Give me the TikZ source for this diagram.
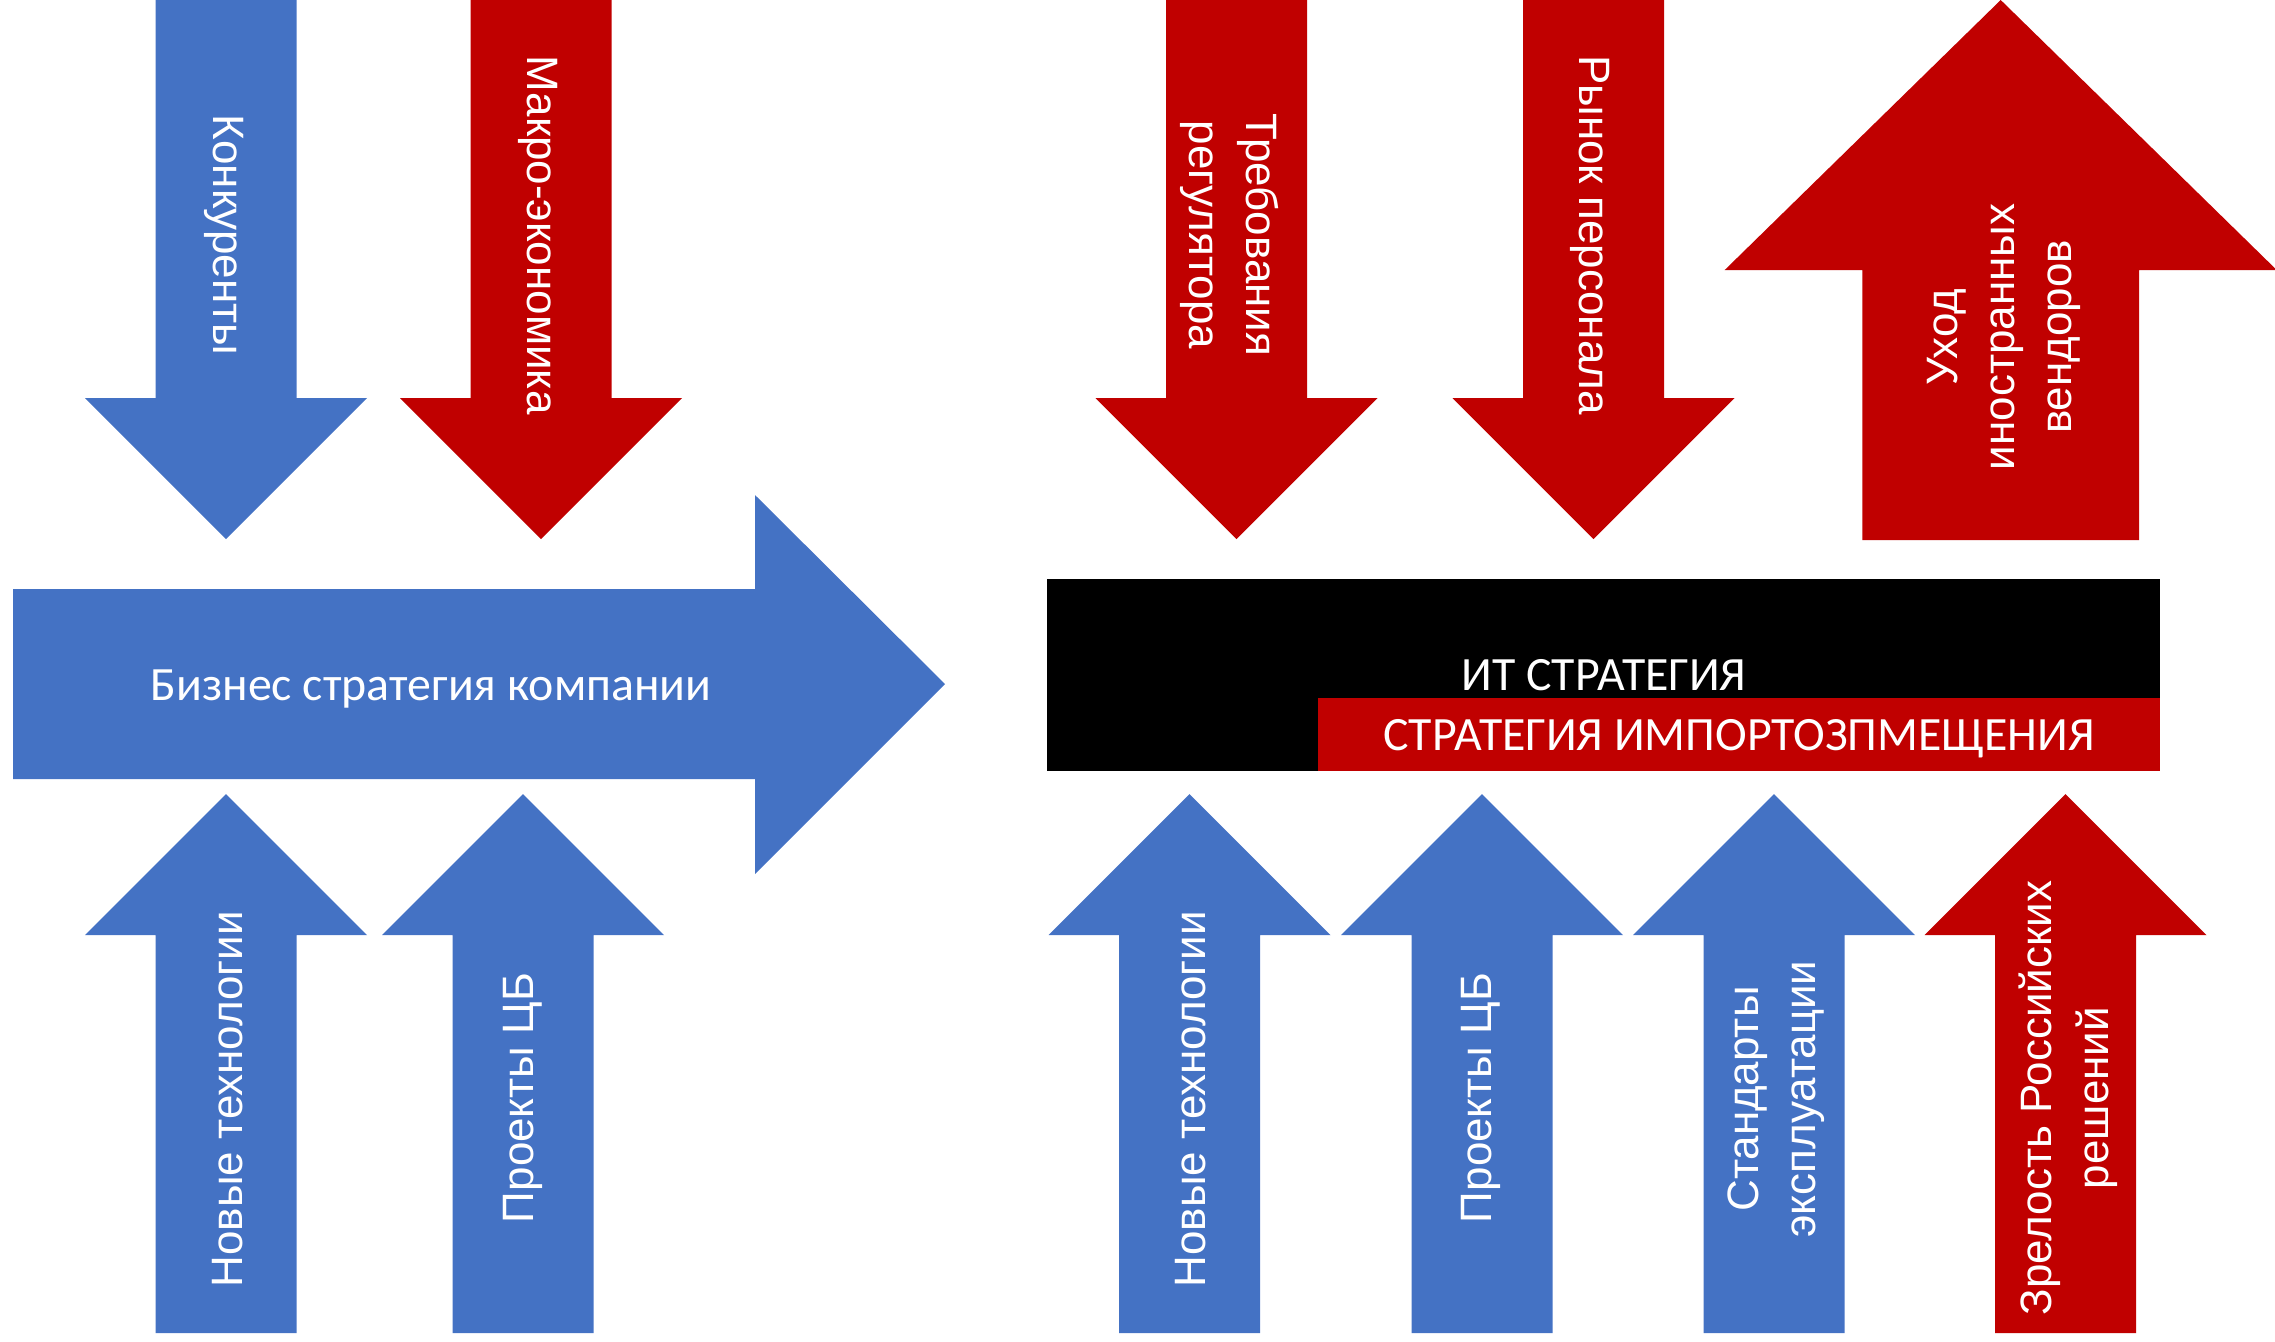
\documentclass[tikz,border=0pt]{standalone}
\usepackage{fontspec}
\setmainfont{Liberation Sans}
\newfontfamily\calibrifont{Carlito}
\definecolor{arrowblue}{HTML}{4472C4}
\definecolor{arrowred}{HTML}{C00000}

% vertical block arrow: colour, centre x, shaft end y, head base y, tip y, shaft half width, head half width
\newcommand\vertarrow[7]{%
  \fill[#1] (#2-#6,#3) -- (#2+#6,#3) -- (#2+#6,#4) -- (#2+#7,#4) -- (#2,#5)
    -- (#2-#7,#4) -- (#2-#6,#4) -- cycle;}

\begin{document}
\begin{tikzpicture}[x=0.01cm,y=-0.01cm,
  vlabel/.style={text=white, font=\fontsize{12.5}{16.2}\selectfont, align=center, inner sep=0pt},
  hlabel/.style={text=white, font=\calibrifont\fontsize{13.6}{16}\selectfont, inner sep=0pt, anchor=base}]
\useasboundingbox (0,0) rectangle (2275,1341);

% business strategy arrow
\fill[arrowblue] (13,589) -- (755,589) -- (755,495) -- (945,684) -- (755,874)
  -- (755,779) -- (13,779) -- cycle;
\node[hlabel] (biz) at (431,700.7) {Бизнес стратегия компании};

% downward influences, left group
\vertarrow{arrowblue}{226}{0}{398}{539}{70.5}{141}
\vertarrow{arrowred}{541}{0}{398}{539}{70.5}{141}
\node[vlabel, rotate=-90] (konk) at (224,235) {Конкуренты};
\node[vlabel, rotate=-90] (macro) at (538,235) {Макро-экономика};

% upward influences, left group
\vertarrow{arrowblue}{226}{1333}{935}{794}{70.5}{141}
\vertarrow{arrowblue}{523}{1333}{935}{794}{70.5}{141}
\node[vlabel, rotate=90] (tech1) at (228,1099) {Новые технологии};
\node[vlabel, rotate=90] (cb1) at (523,1098) {Проекты ЦБ};

% IT strategy block
\fill[black] (1046.7,579) rectangle (2160,770.7);
\fill[arrowred] (1318,697.7) rectangle (2160,770.7);
\node[hlabel] (it) at (1604,690.7) {ИТ СТРАТЕГИЯ};
\node[hlabel] (imp) at (1739,750.7) {СТРАТЕГИЯ ИМПОРТОЗПМЕЩЕНИЯ};

% downward influences, right group
\vertarrow{arrowred}{1236.5}{0}{398}{539}{70.5}{141}
\vertarrow{arrowred}{1593.5}{0}{398}{539}{70.5}{141}
\node[vlabel, rotate=-90] (reg) at (1230,235) {Требования\\регулятора};
\node[vlabel, rotate=-90] (staff) at (1590,235) {Рынок персонала};

% vendors leaving
\vertarrow{arrowred}{2000.7}{540}{270}{0}{138.3}{276}
\node[vlabel, rotate=90] (vend) at (2004,337) {Уход\\иностранных\\вендоров};

% upward influences, right group
\vertarrow{arrowblue}{1189.5}{1333}{935}{794}{70.5}{141}
\vertarrow{arrowblue}{1482}{1333}{935}{794}{70.5}{141}
\vertarrow{arrowblue}{1774}{1333}{935}{794}{70.5}{141}
\vertarrow{arrowred}{2065.5}{1333}{935}{794}{70.5}{141}
\node[vlabel, rotate=90] (tech2) at (1191,1099) {Новые технологии};
\node[vlabel, rotate=90] (cb2) at (1481,1098) {Проекты ЦБ};
\node[vlabel, rotate=90] (ops) at (1776,1099) {Стандарты\\эксплуатации};
\node[vlabel, rotate=90] (ripe) at (2068,1098) {Зрелость Российских\\решений};
\end{tikzpicture}
\end{document}
